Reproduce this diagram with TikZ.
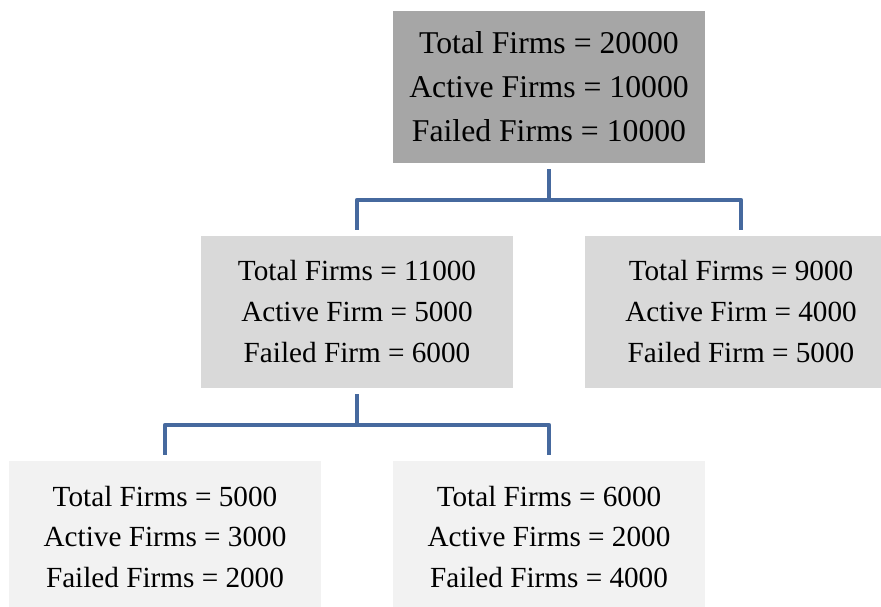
\documentclass[tikz,border=0pt]{standalone}
\usepackage{fontspec}
\setmainfont{Liberation Serif}
\definecolor{boxA}{HTML}{A6A6A6}
\definecolor{boxB}{HTML}{D9D9D9}
\definecolor{boxC}{HTML}{F2F2F2}
\definecolor{conncol}{HTML}{46699E}
\tikzset{
  firmbox/.style={rectangle, inner sep=0pt, minimum width=312pt, minimum height=152pt, align=center, text=black},
  lvlA/.style={firmbox, fill=boxA, font=\fontsize{31.7}{44}\selectfont},
  lvlB/.style={firmbox, fill=boxB, font=\fontsize{29.2}{41}\selectfont},
  lvlC/.style={firmbox, fill=boxC, font=\fontsize{29.2}{40.5}\selectfont},
  conn/.style={draw=conncol, line width=4.8pt, line join=round}
}
\begin{document}
\begin{tikzpicture}[x=1pt,y=-1pt]
\useasboundingbox (0,0) rectangle (881,606);
\clip (0,0) rectangle (881,606);
\node[lvlA] (top) at (549,87) {Total Firms = 20000\\Active Firms = 10000\\Failed Firms = 10000};
\node[lvlB] (ml) at (357,312) {Total Firms = 11000\\Active Firm = 5000\\Failed Firm = 6000};
\node[lvlB] (mr) at (741,312) {Total Firms = 9000\\Active Firm = 4000\\Failed Firm = 5000};
\node[lvlC] (bl) at (165,537) {Total Firms = 5000\\Active Firms = 3000\\Failed Firms = 2000};
\node[lvlC] (br) at (549,537) {Total Firms = 6000\\Active Firms = 2000\\Failed Firms = 4000};
\coordinate (j1) at (549,200);
\coordinate (j2) at (357,425);
\draw[conn] ([yshift=-6pt]top.south) -- (j1);
\draw[conn] ([yshift=6pt]ml.north) |- (j1) -| ([yshift=6pt]mr.north);
\draw[conn] ([yshift=-6pt]ml.south) -- (j2);
\draw[conn] ([yshift=6pt]bl.north) |- (j2) -| ([yshift=6pt]br.north);
\end{tikzpicture}
\end{document}
